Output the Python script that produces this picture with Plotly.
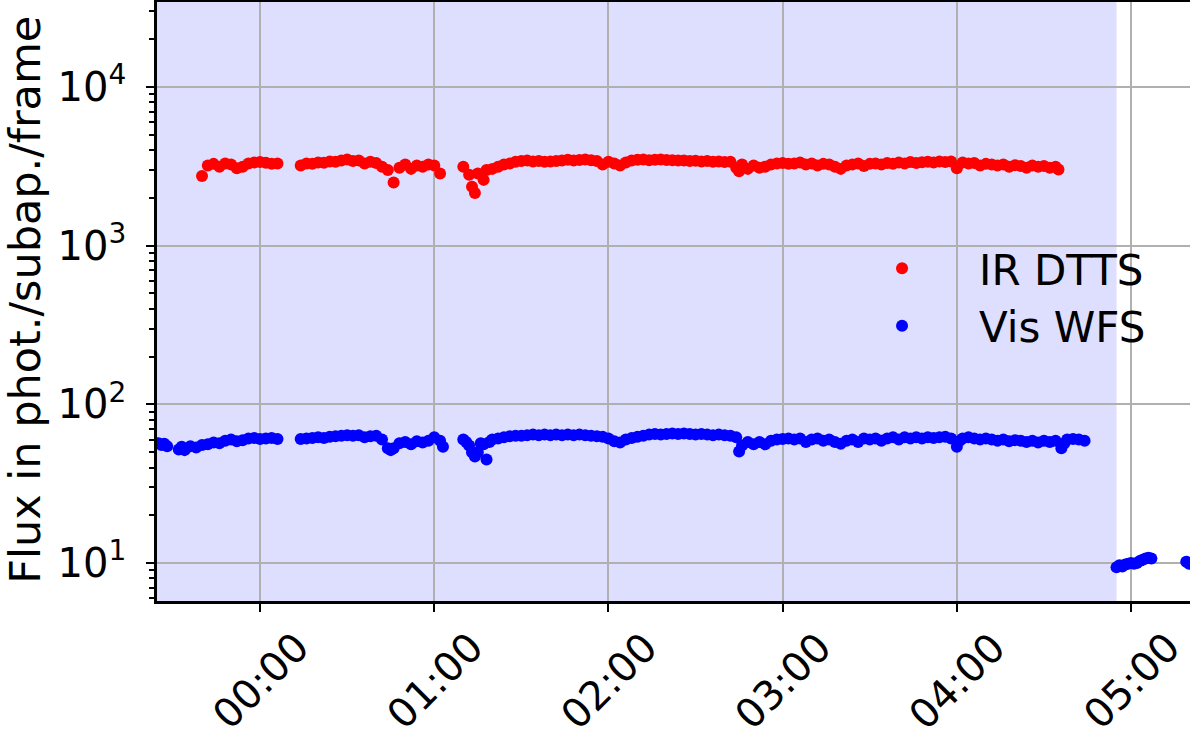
import pandas as pd
import plotly.graph_objects as go

# Sample times in minutes relative to 00:00 (negative = before midnight)
ir_minutes = [-20, -18, -16, -14, -12, -10, -8, -6, -4, -2, 0, 2, 4, 6,
              14, 16, 18, 20, 22, 24, 26, 28, 30, 32, 34, 36, 38, 40, 42, 44, 46,
              48, 50, 52, 54, 56, 58, 60, 62,
              70, 72, 73, 74, 75, 77, 78, 80, 82, 84, 86, 88, 90, 92, 94, 96, 98,
              100, 102, 104, 106, 108, 110, 112, 114, 116, 118, 120, 122, 124, 126,
              128, 130, 132, 134, 136, 138, 140, 142, 144, 146, 148, 150, 152, 154,
              156, 158, 160, 162, 164, 165, 166, 168, 170, 172, 174, 176, 178, 180,
              182, 184, 186, 188, 190, 192, 194, 196, 198, 200, 202, 204, 206, 208,
              210, 212, 214, 216, 218, 220, 222, 224, 226, 228, 230, 232, 234, 236,
              238, 240, 242, 244, 246, 248, 250, 252, 254, 256, 258, 260, 262, 264,
              266, 268, 270, 272, 274, 275]
ir_flux = [2750, 3200, 3280, 3150, 3300, 3250, 3080, 3150, 3300, 3350, 3370, 3330, 3280, 3300,
           3200, 3300, 3280, 3350, 3330, 3400, 3380, 3450, 3500, 3420, 3450, 3300, 3380, 3320,
           3150, 3000, 2500, 3100, 3250, 3050, 3200, 3150, 3250, 3200, 2850,
           3150, 2800, 2350, 2150, 2850, 2600, 3000, 3050, 3150, 3250, 3300, 3380, 3420, 3450,
           3400, 3420, 3380, 3400, 3420, 3450, 3480, 3450, 3470, 3500, 3460, 3420, 3250, 3380,
           3300, 3200, 3350, 3450, 3480, 3500, 3460, 3480, 3500, 3470, 3460, 3440, 3450, 3420,
           3430, 3400, 3420, 3380, 3400, 3370, 3380, 3100, 2950, 3250, 3050, 3200, 3100, 3150,
           3250, 3300, 3320, 3280, 3300, 3350, 3250, 3300, 3200, 3280, 3250, 3150, 3050, 3200,
           3250, 3300, 3180, 3280, 3300, 3250, 3320, 3280, 3350, 3300, 3370, 3320, 3360, 3380,
           3350, 3400, 3370, 3400, 3080, 3350, 3300, 3320, 3200, 3280, 3250, 3200, 3250, 3150,
           3220, 3180, 3100, 3200, 3150, 3180, 3100, 3150, 3020]

vis_minutes = [-35, -34, -33, -32,
               -28, -27, -26, -24, -22, -20, -18, -16, -14, -12, -10, -8, -6, -4, -2, 0, 2, 4, 6,
               14, 16, 18, 20, 22, 24, 26, 28, 30, 32, 34, 36, 38, 40, 42, 44, 45, 46, 48,
               50, 52, 54, 56, 58, 60, 62, 63,
               70, 71, 72, 73, 74, 75, 76, 77, 78, 79, 80, 82, 84, 86, 88, 90, 92, 94, 96,
               98, 100, 102, 104, 106, 108, 110, 112, 114, 116, 118, 120, 122, 124, 126, 128,
               130, 132, 134, 136, 138, 140, 142, 144, 146, 148, 150, 152, 154, 156, 158, 160,
               162, 164, 165, 166, 168, 170, 172, 174, 176, 178, 180, 182, 184, 186, 188, 190,
               192, 194, 196, 198, 200, 202, 204, 206, 208, 210, 212, 214, 216, 218, 220, 222,
               224, 226, 228, 230, 232, 234, 236, 238, 240, 241, 242, 244, 246, 248, 250, 252,
               254, 256, 258, 260, 262, 264, 266, 268, 270, 272, 274, 276, 277, 278, 280, 282, 284,
               295, 296, 297, 298, 299, 300, 301, 302, 303, 304, 305, 306, 307,
               319, 320, 321]
vis_flux = [57, 55.5, 56.5, 54.5,
            52, 54, 51.5, 54.5, 53.5, 55.5, 56, 57.5, 57, 59, 60, 58.5, 59.5, 61, 61.5, 60.5, 61, 61.5, 60.5,
            60.5, 61, 61.5, 62, 61.5, 62.5, 63, 63.5, 64, 63.5, 64, 62, 63, 63.5, 60, 53, 51.5, 53, 57,
            58, 56, 58.5, 57.5, 59, 62, 59, 54,
            60, 58, 55, 50, 47, 50, 57, 56, 45, 58, 60, 61, 62, 63, 63.5, 63.5, 64, 64.5, 64,
            64.5, 64, 64.5, 64, 64.5, 64, 64.5, 64, 63.5, 63, 62.5, 61, 58.5, 57.5, 60, 61.5,
            62.5, 63.5, 64.5, 65, 64.5, 65, 65.5, 65, 65.5, 65, 64.5, 65, 64.5, 64, 64.5, 64,
            63.5, 62, 50.5, 55, 58, 56, 58, 56, 59, 60, 60.5, 61, 60, 61, 58, 60,
            61, 59, 60, 58, 56.5, 59, 60, 58, 61, 60, 61, 59, 61, 62, 60, 62,
            61, 62, 61, 62, 61.5, 62, 62.5, 61, 54, 59, 61, 62, 61, 60, 61, 60,
            59, 60, 58.5, 59.5, 59, 58, 59, 57.5, 59, 58, 59, 53, 57, 60, 60.5, 60, 59,
            9.4, 9.7, 9.5, 9.8, 9.9, 10.0, 9.9, 10.0, 10.3, 10.5, 10.7, 10.8, 10.7,
            10.2, 9.9, 10.0]

# Axis extent and shaded interval (minutes relative to 00:00)
x_range_minutes = [-35.5, 320.3]
shade_minutes = [-40, 295]
hour_ticks = [0, 60, 120, 180, 240, 300]
hour_labels = ["00:00", "01:00", "02:00", "03:00", "04:00", "05:00"]

# Log axis ticks
y_major = [10, 100, 1000, 10000]
y_major_labels = ["10<sup>1</sup>", "10<sup>2</sup>", "10<sup>3</sup>", "10<sup>4</sup>"]
y_minor = [6, 7, 8, 9, 20, 30, 40, 50, 60, 70, 80, 90, 200, 300, 400, 500, 600, 700, 800, 900,
           2000, 3000, 4000, 5000, 6000, 7000, 8000, 9000, 20000, 30000]

midnight = pd.Timestamp("2019-05-20 00:00")


def to_time(minutes):
    return [midnight + pd.Timedelta(minutes=float(m)) for m in minutes]


FONT = "DejaVu Sans"
FS = 40

fig = go.Figure()
fig.add_trace(go.Scatter(x=to_time(ir_minutes), y=ir_flux, mode="markers", name="IR DTTS",
                         marker=dict(color="#ff0000", size=12)))
fig.add_trace(go.Scatter(x=to_time(vis_minutes), y=vis_flux, mode="markers", name="Vis WFS",
                         marker=dict(color="#0000ff", size=12)))

shade_t = to_time(shade_minutes)
fig.add_shape(type="rect", xref="x", yref="paper", x0=shade_t[0], x1=shade_t[1], y0=0, y1=1,
              fillcolor="rgba(0,0,255,0.13)", line=dict(width=0), layer="below")

tick_t = to_time(hour_ticks)
for t, lab in zip(tick_t, hour_labels):
    fig.add_annotation(x=t, y=-0.133, xref="x", yref="paper", text=lab, showarrow=False,
                       textangle=-45, xanchor="center", yanchor="middle",
                       font=dict(family=FONT, size=FS, color="black"))

# Vertical axis title
fig.add_annotation(x=-0.128, y=0.5025, xref="paper", yref="paper",
                   text="Flux in phot./subap./frame", showarrow=False, textangle=-90,
                   xanchor="center", yanchor="middle",
                   font=dict(family=FONT, size=43, color="black"))

fig.update_xaxes(type="date", range=to_time(x_range_minutes), tickvals=tick_t,
                 showticklabels=False, ticks="outside", ticklen=8, tickwidth=2,
                 tickcolor="black", showline=True, linecolor="black", linewidth=2.5,
                 mirror=True, showgrid=True, gridcolor="#b0b0b0", gridwidth=2, zeroline=False)
fig.update_yaxes(type="log", range=[0.761, 4.536], tickmode="array", tickvals=y_major,
                 ticktext=y_major_labels, ticks="outside", ticklen=8, tickwidth=2,
                 tickcolor="black", ticklabelstandoff=12,
                 minor=dict(tickmode="array", tickvals=y_minor, ticks="outside", ticklen=5,
                            tickwidth=1.5, tickcolor="black", showgrid=False),
                 showline=True, linecolor="black", linewidth=2.5, showgrid=True,
                 gridcolor="#b0b0b0", gridwidth=2, zeroline=False,
                 tickfont=dict(family=FONT, size=FS, color="black"))

fig.update_layout(width=1190, height=734, margin=dict(l=157, r=0, t=2, b=133),
                  paper_bgcolor="white", plot_bgcolor="white",
                  font=dict(family=FONT, size=FS, color="black"),
                  legend=dict(x=0.6467, y=0.612, xanchor="left", yanchor="top",
                              bgcolor="rgba(0,0,0,0)", borderwidth=0, itemwidth=144,
                              font=dict(family=FONT, size=42, color="black")))

fig.write_html("out.html")
